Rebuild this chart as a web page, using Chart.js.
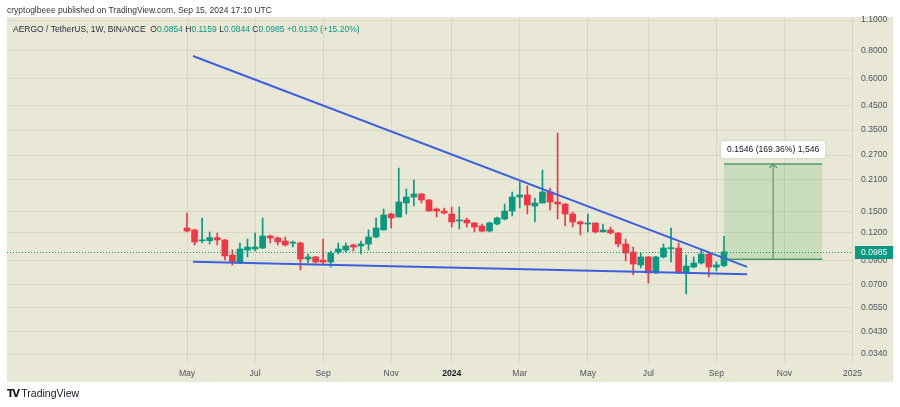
<!DOCTYPE html>
<html>
<head>
<meta charset="utf-8">
<script src="https://cdn.jsdelivr.net/npm/chart.js@4.4.1/dist/chart.umd.min.js"></script>
<style>
  html, body { margin: 0; padding: 0; background: #fff; }
  #wrap { position: relative; width: 900px; height: 407px; overflow: hidden; font-family: "Liberation Sans", Arial, sans-serif; }
  #pane { position: absolute; left: 7px; top: 17px; width: 886px; height: 365px; background: #e9e8d6; }
  #myChart { position: absolute; left: 0; top: 0; }
  #pub { position: absolute; left: 7px; top: 5px; font-size: 8.5px; color: #333; }
  #legend { position: absolute; left: 13px; top: 24px; font-size: 8.5px; color: #2a2e39; white-space: pre; }
  #legend .v { color: #089981; }
  #logo { position: absolute; left: 7px; top: 387px; font-size: 10.5px; color: #131722; white-space: pre; }
  #logo b { font-family: "DejaVu Sans", sans-serif; font-weight: 900; letter-spacing: -1.5px; font-size: 10px; }
</style>
</head>
<body>
<div id="wrap">
  <div id="pane"></div>
  <canvas id="myChart" width="900" height="407"></canvas>
  <div id="pub">cryptoglbeee published on TradingView.com, Sep 15, 2024 17:10 UTC</div>
  <div id="legend">AERGO / TetherUS, 1W, BINANCE  O<span class="v">0.0854</span> H<span class="v">0.1159</span> L<span class="v">0.0844</span> C<span class="v">0.0985</span> <span class="v">+0.0130 (+15.20%)</span></div>
  <div id="logo"><b>TV</b> TradingView</div>
</div>
<script>
// weekly candles, first week = 2023-05-01, index 0
const open = [0.1263, 0.1237, 0.1105, 0.1107, 0.1142, 0.1115, 0.0953, 0.0877, 0.1004, 0.1015,
    0.1025, 0.1162, 0.1138, 0.1103, 0.1078, 0.1080, 0.0914, 0.0934, 0.0905, 0.0886,
    0.0983, 0.1004, 0.1058, 0.1047, 0.1069, 0.1150, 0.1237, 0.1461, 0.1416, 0.1638,
    0.1744, 0.1799, 0.1690, 0.1539, 0.1507, 0.1461, 0.1359, 0.1373, 0.1331, 0.1290,
    0.1224, 0.1317, 0.1387, 0.1507, 0.1744, 0.1781, 0.1588, 0.1638, 0.1837, 0.1655,
    0.1621, 0.1461, 0.1345, 0.1317, 0.1331, 0.1212, 0.1237, 0.1199, 0.1069, 0.0983,
    0.0859, 0.0934, 0.0791, 0.0934, 0.1018, 0.1025, 0.0791, 0.0841, 0.0877, 0.0963,
    0.0841, 0.0854];
const high = [0.1476, 0.1250, 0.1402, 0.1212, 0.1199, 0.1120, 0.1004, 0.1080, 0.1126, 0.1199,
    0.1402, 0.1174, 0.1150, 0.1150, 0.1103, 0.1092, 0.0963, 0.0940, 0.1126, 0.0994,
    0.1080, 0.1080, 0.1069, 0.1103, 0.1237, 0.1402, 0.1539, 0.1476, 0.2358, 0.1895,
    0.2082, 0.1810, 0.1700, 0.1555, 0.1555, 0.1571, 0.1571, 0.1402, 0.1340, 0.1317,
    0.1345, 0.1416, 0.1621, 0.1837, 0.2039, 0.1955, 0.1726, 0.2310, 0.1915, 0.3396,
    0.1630, 0.1492, 0.1359, 0.1461, 0.1331, 0.1317, 0.1276, 0.1205, 0.1126, 0.1036,
    0.0973, 0.0940, 0.0940, 0.1069, 0.1263, 0.1080, 0.0953, 0.0934, 0.1004, 0.0970,
    0.0886, 0.1159];
const low = [0.1212, 0.1058, 0.1080, 0.1069, 0.1058, 0.0905, 0.0859, 0.0877, 0.0934, 0.0994,
    0.1020, 0.1080, 0.1058, 0.1047, 0.1036, 0.0816, 0.0877, 0.0877, 0.0868, 0.0841,
    0.0963, 0.0983, 0.0994, 0.0963, 0.1004, 0.1138, 0.1237, 0.1263, 0.1416, 0.1461,
    0.1588, 0.1638, 0.1500, 0.1416, 0.1461, 0.1276, 0.1250, 0.1276, 0.1212, 0.1212,
    0.1212, 0.1303, 0.1373, 0.1431, 0.1555, 0.1461, 0.1345, 0.1638, 0.1523, 0.1387,
    0.1290, 0.1276, 0.1174, 0.1212, 0.1199, 0.1212, 0.1187, 0.1036, 0.0896, 0.0775,
    0.0833, 0.0712, 0.0785, 0.0924, 0.0886, 0.0791, 0.0635, 0.0833, 0.0868, 0.0758,
    0.0807, 0.0844];
const close = [0.1224, 0.1092, 0.1113, 0.1142, 0.1115, 0.0944, 0.0886, 0.1015, 0.1036, 0.1036,
    0.1162, 0.1138, 0.1092, 0.1058, 0.1082, 0.0914, 0.0934, 0.0886, 0.0886, 0.0973,
    0.1015, 0.1047, 0.1036, 0.1069, 0.1150, 0.1263, 0.1446, 0.1402, 0.1655, 0.1744,
    0.1799, 0.1690, 0.1507, 0.1507, 0.1476, 0.1345, 0.1373, 0.1331, 0.1276, 0.1224,
    0.1331, 0.1402, 0.1507, 0.1744, 0.1781, 0.1605, 0.1638, 0.1837, 0.1655, 0.1621,
    0.1461, 0.1345, 0.1317, 0.1331, 0.1212, 0.1237, 0.1199, 0.1069, 0.0973, 0.0868,
    0.0934, 0.0791, 0.0934, 0.1025, 0.1022, 0.0791, 0.0850, 0.0877, 0.0963, 0.0841,
    0.0860, 0.0985];

// month ticks (week index of first bar in the month)
const monthTicks = [0, 9, 18, 27, 35, 44, 53, 61, 70, 79, 88];
const monthLabels = ['May', 'Jul', 'Sep', 'Nov', '2024', 'Mar', 'May', 'Jul', 'Sep', 'Nov', '2025'];
const priceTicks = [1.1, 0.8, 0.6, 0.45, 0.35, 0.27, 0.21, 0.15, 0.12, 0.09, 0.07, 0.055, 0.043, 0.034];

// drawings
const upperLine = [{ x: 0.79, y: 0.757 }, { x: 74.05, y: 0.0843 }];
const lowerLine = [{ x: 0.79, y: 0.0889 }, { x: 74.05, y: 0.0780 }];
const rangeWeeks = [71, 84];
const rangeLow = 0.0913, rangeHigh = 0.2459;
const rangeText = '0.1546 (169.36%) 1,546';

const green = '#089981', red = '#f23645';
const colors = open.map((o, i) => close[i] >= o ? green : red);
const arrowX = (rangeWeeks[0] + rangeWeeks[1]) / 2;
const font = '"Liberation Sans", Arial, sans-serif';

const overlay = {
    id: 'overlay',
    afterDatasetsDraw(chart) {
        const { ctx, chartArea, scales } = chart;
        const x = scales.x, y = scales.y;
        ctx.save();
        // arrow head
        const ax = x.getPixelForValue(arrowX), ay = y.getPixelForValue(rangeHigh);
        ctx.strokeStyle = '#4f9a6e';
        ctx.lineWidth = 1.2;
        ctx.beginPath();
        ctx.moveTo(ax - 4, ay + 4); ctx.lineTo(ax, ay); ctx.lineTo(ax + 4, ay + 4);
        ctx.stroke();
        // label box
        ctx.font = '8.6px ' + font;
        const w = ctx.measureText(rangeText).width + 12;
        ctx.fillStyle = '#ffffff';
        ctx.shadowColor = 'rgba(0,0,0,0.15)';
        ctx.shadowBlur = 3;
        ctx.beginPath();
        ctx.roundRect(ax - w / 2, ay - 23, w, 17, 3);
        ctx.fill();
        ctx.shadowBlur = 0;
        ctx.fillStyle = '#131722';
        ctx.textAlign = 'center';
        ctx.textBaseline = 'middle';
        ctx.fillText(rangeText, ax, ay - 14.5);
        // last price line
        const last = close[close.length - 1];
        const py = Math.round(y.getPixelForValue(last)) + 0.5;
        ctx.strokeStyle = green;
        ctx.lineWidth = 1;
        ctx.setLineDash([1, 2]);
        ctx.beginPath();
        ctx.moveTo(chartArea.left, py); ctx.lineTo(chartArea.right, py);
        ctx.stroke();
        ctx.setLineDash([]);
        ctx.restore();
    },
    afterDraw(chart) {
        const { ctx, chartArea, scales } = chart;
        const last = close[close.length - 1];
        const py = Math.round(scales.y.getPixelForValue(last));
        ctx.save();
        ctx.fillStyle = green;
        ctx.fillRect(chartArea.right + 2, py - 6, 38, 13);
        ctx.fillStyle = '#fff';
        ctx.font = '8.6px ' + font;
        ctx.textBaseline = 'middle';
        ctx.fillText(last.toFixed(4), chartArea.right + 8, py + 0.5);
        ctx.restore();
    }
};

const data = {
    datasets: [
        {
            type: 'line',
            data: upperLine,
            borderColor: '#3b5fe0',
            borderWidth: 2,
            pointRadius: 0,
            order: 1
        },
        {
            type: 'line',
            data: lowerLine,
            borderColor: '#3b5fe0',
            borderWidth: 2,
            pointRadius: 0,
            order: 1
        },
        {
            type: 'line',
            data: [{ x: rangeWeeks[0], y: rangeHigh }, { x: rangeWeeks[1], y: rangeHigh }],
            borderColor: '#4f9a6e',
            borderWidth: 1.5,
            backgroundColor: 'rgba(76,175,80,0.2)',
            fill: { value: rangeLow },
            pointRadius: 0,
            order: 2
        },
        {
            type: 'line',
            data: [{ x: rangeWeeks[0], y: rangeLow }, { x: rangeWeeks[1], y: rangeLow }],
            borderColor: '#4f9a6e',
            borderWidth: 1.5,
            pointRadius: 0,
            order: 2
        },
        {
            type: 'line',
            data: [{ x: arrowX, y: rangeLow }, { x: arrowX, y: rangeHigh }],
            borderColor: '#4f9a6e',
            borderWidth: 1.2,
            pointRadius: 0,
            order: 2
        },
        {
            type: 'bar',
            data: high.map((h, i) => ({ x: i, y: [low[i], h] })),
            backgroundColor: colors,
            barThickness: 1,
            grouped: false,
            order: 4
        },
        {
            type: 'bar',
            data: open.map((o, i) => ({ x: i, y: [o, close[i]] })),
            backgroundColor: colors,
            barThickness: 6,
            minBarLength: 1,
            grouped: false,
            order: 3
        }
    ]
};

const config = {
    type: 'bar',
    data: data,
    options: {
        responsive: false,
        animation: false,
        layout: { padding: { left: 7, top: 17, right: 7, bottom: 25 } },
        plugins: { legend: { display: false }, tooltip: { enabled: false } },
        scales: {
            x: {
                type: 'linear',
                offset: false,
                min: -23.8,
                max: 88.06,
                afterFit(scale) { scale.height = 18; },
                afterBuildTicks(scale) { scale.ticks = monthTicks.map(v => ({ value: v })); },
                grid: { color: 'rgba(110,110,80,0.13)', drawTicks: false, offset: false },
                border: { display: false },
                ticks: {
                    autoSkip: false,
                    maxRotation: 0,
                    padding: 4,
                    font: ctx => ({ family: font, size: 8.6, weight: monthLabels[ctx.index] === '2024' ? 'bold' : 'normal' }),
                    color: ctx => monthLabels[ctx.index] === '2024' ? '#131722' : '#50535e',
                    callback: (v, i) => monthLabels[i]
                }
            },
            y: {
                type: 'logarithmic',
                position: 'right',
                min: 0.03065,
                max: 1.136,
                afterFit(scale) { scale.width = 40; },
                afterBuildTicks(scale) { scale.ticks = priceTicks.map(v => ({ value: v })); },
                grid: { color: 'rgba(110,110,80,0.13)', drawTicks: false },
                border: { display: false },
                ticks: {
                    autoSkip: false,
                    padding: 8,
                    font: { family: font, size: 8.6 },
                    color: '#50535e',
                    callback: v => Number(v).toFixed(4)
                }
            }
        }
    },
    plugins: [overlay]
};

let myChart = new Chart(document.querySelector('#myChart'), config);
</script>
</body>
</html>
